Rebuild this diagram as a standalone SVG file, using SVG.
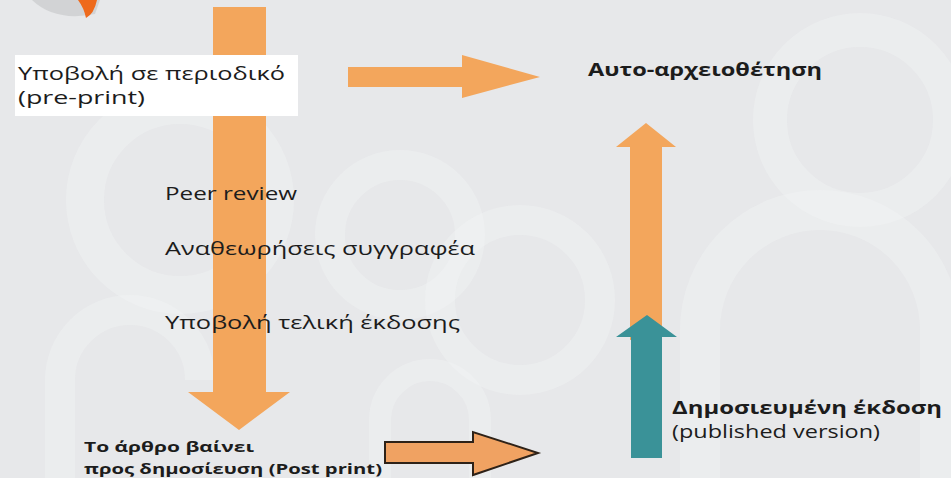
<svg xmlns="http://www.w3.org/2000/svg" width="951" height="478" viewBox="0 0 951 478">
  <defs>
    <style>
      .bg { fill: #e7e8ea; }
      .deco { fill: none; stroke: #f4f5f6; stroke-opacity: 0.35; }
      .orange { fill: #f3a65c; }
      .teal { fill: #3a9298; }
      .outlined { fill: #f0a262; stroke: #2e2218; stroke-width: 2; stroke-linejoin: miter; }
      .t { font-family: "Open Sans", "DejaVu Sans", sans-serif; fill: #1c1c1c; }
      .b { font-weight: bold; }
    </style>
  </defs>
  <rect class="bg" x="0" y="0" width="951" height="478"/>
  <g id="background-decor">
    <circle class="deco" cx="180" cy="200" r="95" stroke-width="38"/>
    <circle class="deco" cx="400" cy="235" r="70" stroke-width="30"/>
    <circle class="deco" cx="520" cy="300" r="80" stroke-width="30"/>
    <path class="deco" d="M700,478 V330 A120,120 0 0 1 940,330 V478" stroke-width="40"/>
    <circle class="deco" cx="860" cy="120" r="90" stroke-width="34"/>
    <path class="deco" d="M60,478 V380 A70,70 0 0 1 200,380" stroke-width="30"/>
    <path class="deco" d="M380,478 V420 A50,50 0 0 1 480,420 V478" stroke-width="22"/>
  </g>
  <g id="logo-fragment">
    <path d="M32,0 Q55,22 95,14 L100,0 Z" fill="#c9cacc" opacity="0.7"/>
    <path d="M78,0 L97,0 Q94,14 86,18 Q84,8 78,0 Z" fill="#ee6a1c"/>
  </g>
  <g id="connectors">
    <path id="arrow-down" class="orange" d="M213,7 H266 V392 H290 L239,430 L188,392 H213 Z"/>
    <path id="arrow-right-top" class="orange" d="M348,67 H462 V55 L540,77 L462,98 V87 H348 Z"/>
    <path id="arrow-up-orange" class="orange" d="M630,340 V147 H616 L646,123 L676,147 H662 V340 Z"/>
    <path id="arrow-up-teal" class="teal" d="M631,458 V337 H616 L647,315 L677,337 H662 V458 Z"/>
    <path id="arrow-right-bottom" class="outlined" d="M385,442 H473 V432 L538,453 L473,475 V463 H385 Z"/>
  </g>
  <g id="node-submission">
    <rect x="15" y="55" width="283" height="61" fill="#ffffff"/>
    <text class="t" x="18" y="80" font-size="17.5" textLength="267" lengthAdjust="spacingAndGlyphs">Υποβολή σε περιοδικό</text>
    <text class="t" x="18" y="104" font-size="17.5" textLength="127" lengthAdjust="spacingAndGlyphs">(pre-print)</text>
  </g>
  <g id="node-self-archiving">
    <text class="t b" x="588" y="76" font-size="18" textLength="234" lengthAdjust="spacingAndGlyphs">Αυτο-αρχειοθέτηση</text>
  </g>
  <g id="node-peer-review">
    <text class="t" x="165" y="200" font-size="18" textLength="132" lengthAdjust="spacingAndGlyphs">Peer review</text>
  </g>
  <g id="node-revisions">
    <text class="t" x="165" y="255" font-size="18" textLength="310" lengthAdjust="spacingAndGlyphs">Αναθεωρήσεις συγγραφέα</text>
  </g>
  <g id="node-final-submission">
    <text class="t" x="165" y="329" font-size="18" textLength="295" lengthAdjust="spacingAndGlyphs">Υποβολή τελική έκδοσης</text>
  </g>
  <g id="node-post-print">
    <text class="t b" x="84" y="452" font-size="15" textLength="170" lengthAdjust="spacingAndGlyphs">Το άρθρο βαίνει</text>
    <text class="t b" x="84" y="474" font-size="15" textLength="298" lengthAdjust="spacingAndGlyphs">προς δημοσίευση (Post print)</text>
  </g>
  <g id="node-published">
    <text class="t b" x="672" y="414" font-size="17.5" textLength="270" lengthAdjust="spacingAndGlyphs">Δημοσιευμένη έκδοση</text>
    <text class="t" x="672" y="438" font-size="17.5" textLength="208" lengthAdjust="spacingAndGlyphs">(published version)</text>
  </g>
</svg>
